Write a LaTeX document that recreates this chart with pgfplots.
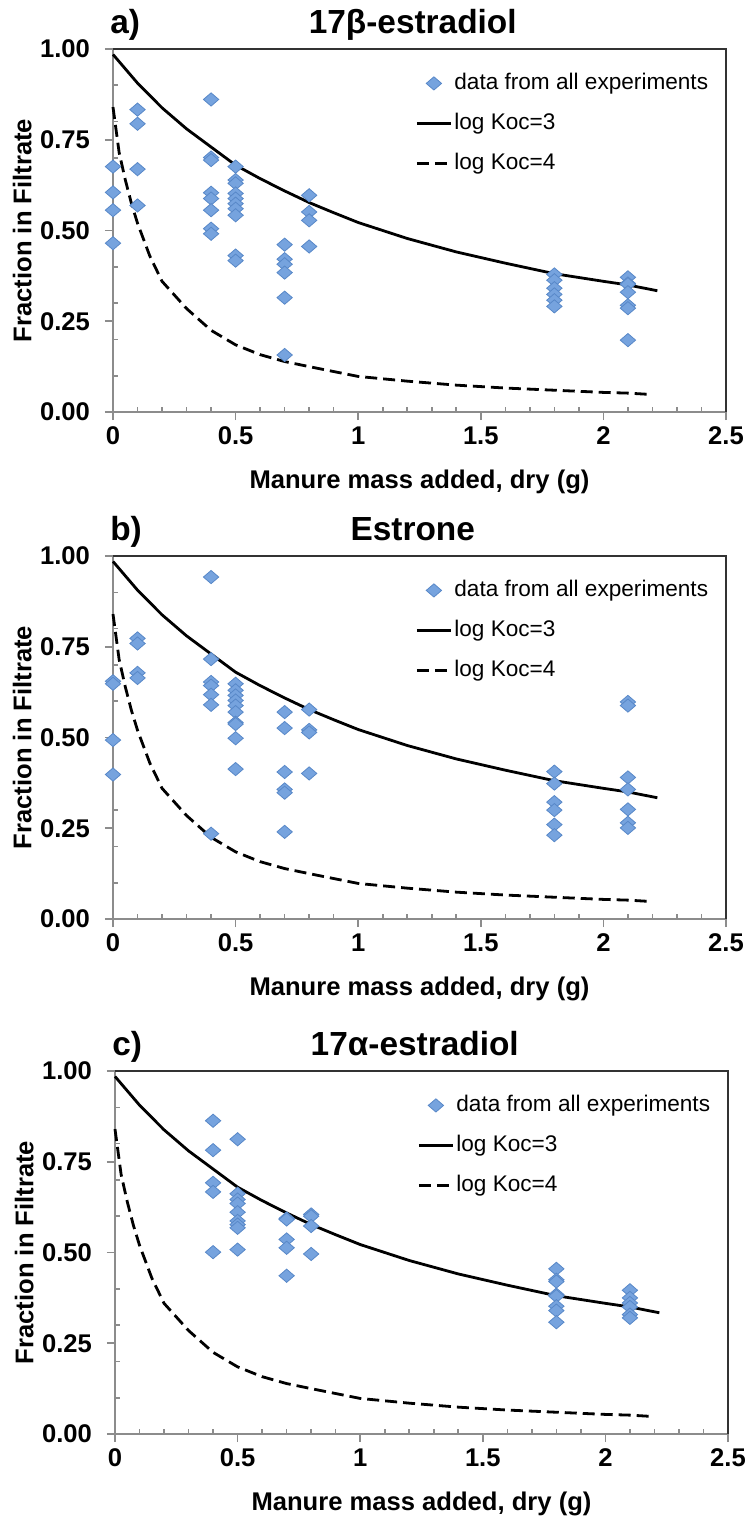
\documentclass[border=0pt]{standalone}
\usepackage{pgfplots}
\pgfplotsset{compat=1.18}
\usepackage{fontspec}
\setmainfont{Liberation Sans}
\definecolor{mk}{RGB}{118,163,222}
\definecolor{mkd}{RGB}{88,136,200}
\definecolor{ax}{RGB}{140,140,140}

\pgfplotstableread{
x y
0 0.985
0.1 0.906
0.2 0.838
0.3 0.780
0.4 0.730
0.5 0.680
0.6 0.643
0.7 0.609
0.8 0.577
0.9 0.549
1.0 0.522
1.2 0.478
1.4 0.441
1.6 0.410
1.8 0.381
2.0 0.360
2.1 0.350
2.22 0.334
}\koca

\pgfplotstableread{
x y
0 0.840
0.025 0.715
0.05 0.640
0.075 0.575
0.1 0.520
0.15 0.430
0.2 0.360
0.3 0.285
0.4 0.225
0.5 0.185
0.6 0.158
0.7 0.139
0.8 0.125
1.0 0.098
1.2 0.085
1.4 0.074
1.6 0.066
1.8 0.060
2.0 0.054
2.1 0.052
2.2 0.048
}\kocb

\pgfplotsset{
 panel/.style={
  scale only axis, width=306.5pt, height=181.5pt,
  xmin=0, xmax=2.5, ymin=0, ymax=1,
  xtick={0,0.5,1,1.5,2,2.5}, xticklabels={0,0.5,1,1.5,2,2.5},
  ytick={0,0.25,0.5,0.75,1}, yticklabels={0.00,0.25,0.50,0.75,1.00},
  extra x ticks={0.1,0.2,0.3,0.4,0.6,0.7,0.8,0.9,1.1,1.2,1.3,1.4,1.6,1.7,1.8,1.9,2.1,2.2,2.3,2.4},
  extra y ticks={0.1,0.2,0.3,0.4,0.6,0.7,0.8,0.9},
  extra x tick labels={}, extra y tick labels={},
  extra tick style={tick align=inside, major tick length=2.5pt},
  xtick pos=bottom, ytick pos=left,
  tick align=outside, major tick length=4pt,
  axis line style={draw=ax, line width=0.9pt},
  every tick/.append style={draw=ax, line width=0.8pt},
  tick label style={font=\bfseries\fontsize{12.8}{15}\selectfont},
  yticklabel style={xshift=-4pt},
  label style={font=\bfseries\fontsize{12.8}{15}\selectfont},
  xlabel={Manure mass added, dry (g)}, ylabel={Fraction in Filtrate},
  xlabel style={at={(axis description cs:0.5,-0.193)}, anchor=center},
  ylabel style={at={(axis description cs:-0.148,0.5)}, anchor=center},
  clip=false,
  legend style={draw=none, fill=none, at={(axis description cs:0.4927,0.941)}, anchor=north west,
    font=\fontsize{11.3}{13}\selectfont, row sep=7.4pt, inner sep=0pt,
    nodes={inner sep=1pt, text height=8.2pt, text depth=2.4pt}},
  legend cell align=left,
 },
 dat/.style={only marks, mark=diamond*, mark size=3.3pt, mark options={xscale=1.55, fill=mk, draw=mkd, line width=0.4pt}},
 l3/.style={black, line width=1.4pt, no marks},
 l4/.style={black, line width=1.4pt, no marks, dash pattern=on 6pt off 3pt},
}

\begin{document}
\begin{tikzpicture}
\useasboundingbox (0,0) rectangle (373pt,-759.5pt);

% ---------- a) ----------
\begin{axis}[panel, at={(56.5pt,-206pt)}, anchor=south west]
\addplot[dat] coordinates {
(0,0.676) (0,0.605) (0,0.556) (0,0.465)
(0.1,0.833) (0.1,0.794) (0.1,0.669) (0.1,0.569)
(0.4,0.861) (0.4,0.701) (0.4,0.694) (0.4,0.604) (0.4,0.588) (0.4,0.556) (0.4,0.505) (0.4,0.491)
(0.5,0.676) (0.5,0.639) (0.5,0.630) (0.5,0.602) (0.5,0.588) (0.5,0.574) (0.5,0.560) (0.5,0.542) (0.5,0.431) (0.5,0.417)
(0.7,0.461) (0.7,0.421) (0.7,0.407) (0.7,0.384) (0.7,0.315) (0.7,0.157)
(0.8,0.597) (0.8,0.551) (0.8,0.528) (0.8,0.456)
(1.8,0.379) (1.8,0.363) (1.8,0.341) (1.8,0.324) (1.8,0.308) (1.8,0.291)
(2.1,0.371) (2.1,0.354) (2.1,0.352) (2.1,0.330) (2.1,0.294) (2.1,0.286) (2.1,0.198)
};
\addlegendentry{data from all experiments}
\addplot[l3] table {\koca};
\addlegendentry{log Koc=3}
\addplot[l4] table {\kocb};
\addlegendentry{log Koc=4}
\draw[black!80, line width=0.9pt] (rel axis cs:0,1) -- (rel axis cs:1,1) -- (rel axis cs:1,0);
\node[anchor=base west, font=\bfseries\fontsize{16.7}{19}\selectfont] at (axis description cs:-0.016,1.044) {a)};
\node[anchor=base, font=\bfseries\fontsize{16.7}{19}\selectfont] at (axis description cs:0.489,1.044) {17β-estradiol};
\end{axis}

% ---------- b) ----------
\begin{axis}[panel, at={(56.5pt,-459.5pt)}, anchor=south west]
\addplot[dat] coordinates {
(0,0.655) (0,0.648) (0,0.493) (0,0.398)
(0.1,0.773) (0.1,0.759) (0.1,0.678) (0.1,0.664)
(0.4,0.942) (0.4,0.716) (0.4,0.653) (0.4,0.643) (0.4,0.618) (0.4,0.590) (0.4,0.235)
(0.5,0.648) (0.5,0.630) (0.5,0.616) (0.5,0.602) (0.5,0.588) (0.5,0.570) (0.5,0.541) (0.5,0.537) (0.5,0.498) (0.5,0.413)
(0.7,0.570) (0.7,0.526) (0.7,0.405) (0.7,0.357) (0.7,0.348) (0.7,0.240)
(0.8,0.577) (0.8,0.521) (0.8,0.514) (0.8,0.401)
(1.8,0.406) (1.8,0.373) (1.8,0.322) (1.8,0.300) (1.8,0.260) (1.8,0.231)
(2.1,0.598) (2.1,0.588) (2.1,0.390) (2.1,0.357) (2.1,0.302) (2.1,0.265) (2.1,0.251)
};
\addlegendentry{data from all experiments}
\addplot[l3] table {\koca};
\addlegendentry{log Koc=3}
\addplot[l4] table {\kocb};
\addlegendentry{log Koc=4}
\draw[black!80, line width=0.9pt] (rel axis cs:0,1) -- (rel axis cs:1,1) -- (rel axis cs:1,0);
\node[anchor=base west, font=\bfseries\fontsize{16.7}{19}\selectfont] at (axis description cs:-0.016,1.044) {b)};
\node[anchor=base, font=\bfseries\fontsize{16.7}{19}\selectfont] at (axis description cs:0.489,1.044) {Estrone};
\end{axis}

% ---------- c) ----------
\begin{axis}[panel, at={(57.5pt,-717pt)}, anchor=south west]
\addplot[dat] coordinates {
(0.4,0.863) (0.4,0.782) (0.4,0.692) (0.4,0.667) (0.4,0.501)
(0.5,0.812) (0.5,0.662) (0.5,0.646) (0.5,0.635) (0.5,0.611) (0.5,0.587) (0.5,0.577) (0.5,0.568) (0.5,0.508)
(0.7,0.594) (0.7,0.591) (0.7,0.536) (0.7,0.513) (0.7,0.436)
(0.8,0.605) (0.8,0.600) (0.8,0.573) (0.8,0.496)
(1.8,0.455) (1.8,0.425) (1.8,0.420) (1.8,0.384) (1.8,0.380) (1.8,0.352) (1.8,0.340) (1.8,0.308)
(2.1,0.396) (2.1,0.375) (2.1,0.361) (2.1,0.350) (2.1,0.329) (2.1,0.320)
};
\addlegendentry{data from all experiments}
\addplot[l3] table {\koca};
\addlegendentry{log Koc=3}
\addplot[l4] table {\kocb};
\addlegendentry{log Koc=4}
\draw[black!80, line width=0.9pt] (rel axis cs:0,1) -- (rel axis cs:1,1) -- (rel axis cs:1,0);
\node[anchor=base west, font=\bfseries\fontsize{16.7}{19}\selectfont] at (axis description cs:-0.016,1.044) {c)};
\node[anchor=base, font=\bfseries\fontsize{16.7}{19}\selectfont] at (axis description cs:0.489,1.044) {17α-estradiol};
\end{axis}
\end{tikzpicture}
\end{document}
